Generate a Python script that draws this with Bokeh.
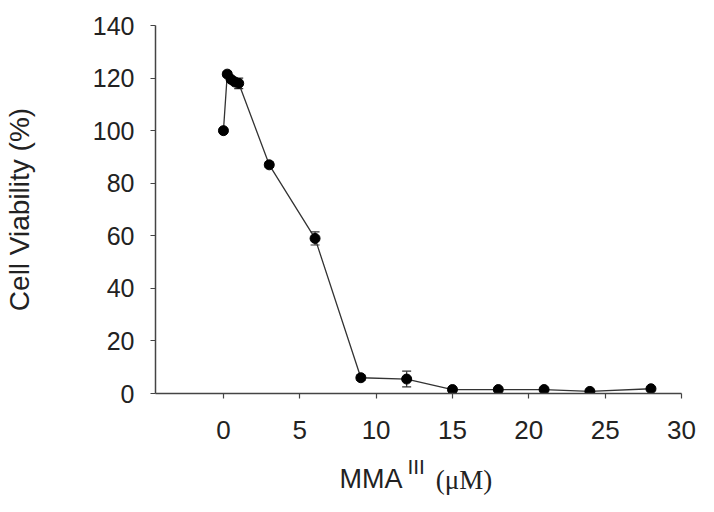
from bokeh.plotting import figure
from bokeh.models import ColumnDataSource, Whisker, TeeHead, FixedTicker, Range1d
from bokeh.layouts import column
from bokeh.core.properties import value
from bokeh.embed import file_html
from bokeh.resources import INLINE

conc = [0, 0.25, 0.5, 0.75, 1, 3, 6, 9, 12, 15, 18, 21, 24, 28]
viability = [100, 121.5, 119.5, 118.5, 118, 87, 59, 6, 5.5, 1.5, 1.5, 1.5, 0.8, 1.8]
error = [0.5, 1, 1, 1, 2, 1, 2.5, 1, 3, 0.5, 0.5, 0.5, 0.5, 0.5]
x_ticks = [0, 5, 10, 15, 20, 25, 30]
y_ticks = [0, 20, 40, 60, 80, 100, 120, 140]
y_title = "Cell Viability (%)"
x_title_parts = ["MMA", "III", "(\u03bcM)"]

src = ColumnDataSource(dict(
    x=conc, y=viability,
    lo=[v - e for v, e in zip(viability, error)],
    hi=[v + e for v, e in zip(viability, error)],
))

xr = Range1d(-4.45, 30)
p = figure(width=698, height=452, output_backend="svg", toolbar_location=None,
           x_range=xr, y_range=Range1d(0, 140),
           min_border_left=154, min_border_right=17, min_border_top=25, min_border_bottom=59)
p.outline_line_color = None
p.grid.visible = False

p.line("x", "y", source=src, line_color="#333333", line_width=1.3)
w = Whisker(base="x", lower="lo", upper="hi", source=src, line_color="#333333", line_width=1.2,
            upper_head=TeeHead(size=9, line_color="#333333", line_width=1.2),
            lower_head=TeeHead(size=9, line_color="#333333", line_width=1.2))
p.add_layout(w)
p.scatter("x", "y", source=src, size=10, color="black")

for ax in (p.xaxis[0], p.yaxis[0]):
    ax.axis_line_color = "#444444"
    ax.axis_line_width = 1.5
    ax.major_tick_line_color = "#444444"
    ax.major_tick_line_width = 1.2
    ax.major_tick_in = 0
    ax.major_tick_out = 5
    ax.minor_tick_line_color = None
    ax.major_label_text_font = "Liberation Sans"
    ax.major_label_text_color = "#222222"

p.xaxis.ticker = FixedTicker(ticks=x_ticks)
p.yaxis.ticker = FixedTicker(ticks=y_ticks)
p.xaxis.major_label_text_font_size = "26px"
p.yaxis.major_label_text_font_size = "25px"
p.xaxis.major_label_standoff = 22
p.yaxis.major_label_standoff = 16

p.yaxis.axis_label = y_title
p.yaxis.axis_label_text_font = "Liberation Sans"
p.yaxis.axis_label_text_font_size = "28px"
p.yaxis.axis_label_text_font_style = "normal"
p.yaxis.axis_label_text_color = "#222222"
p.yaxis.axis_label_standoff = 55

# x-axis title strip (mixed fonts / superscript)
t = figure(width=698, height=44, output_backend="svg", toolbar_location=None,
           x_range=xr, y_range=Range1d(0, 44), x_axis_type=None, y_axis_type=None,
           min_border_left=154, min_border_right=17, min_border_top=0, min_border_bottom=0)
t.title.visible = False
t.outline_line_color = None
t.grid.visible = False
t.text(x=[7.6], y=[18], text=[x_title_parts[0]], text_font=value("Liberation Sans"),
       text_font_size="27px", text_color="#222222", text_baseline="alphabetic")
t.text(x=[12.05], y=[30], text=[x_title_parts[1]], text_font=value("Liberation Sans"),
       text_font_size="21px", text_color="#222222", text_baseline="alphabetic")
t.text(x=[13.9], y=[17], text=[x_title_parts[2]], text_font=value("Liberation Serif"),
       text_font_size="27px", text_color="#222222", text_baseline="alphabetic")

layout = column(p, t, spacing=0)
open("out.html", "w").write(file_html(layout, INLINE))
